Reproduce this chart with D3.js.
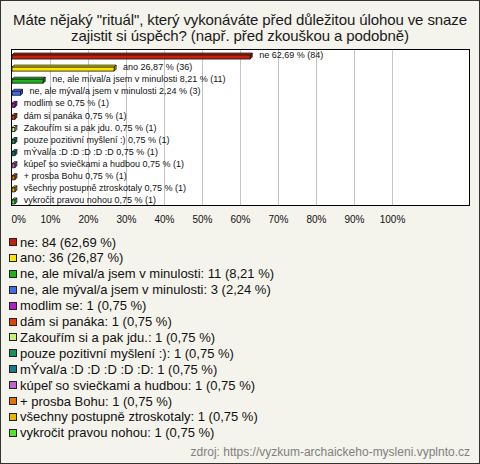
<!DOCTYPE html>
<html><head><meta charset="utf-8">
<script src="https://cdn.jsdelivr.net/npm/d3@7"></script>
<style>html,body{margin:0;padding:0;background:#f4f3ec;}svg{display:block;font-family:"Liberation Sans",Arial,sans-serif;}</style>
</head><body><svg id="c" width="480" height="464"></svg>
<script>
const titleLines = ["Máte nějaký \"rituál\", který vykonáváte před důležitou úlohou ve snaze", "zajistit si úspěch? (např. před zkouškou a podobně)"];
const categories = ["ne", "ano", "ne, ale míval/a jsem v minulosti", "ne, ale mýval/a jsem v minulosti", "modlim se", "dám si panáka", "Zakouřím si a pak jdu.", "pouze pozitivní myšlení :)", "mÝval/a :D :D :D :D :D", "kúpeľ so sviečkami a hudbou", "+ prosba Bohu", "všechny postupně ztroskotaly", "vykročit pravou nohou"];
const counts = [84, 36, 11, 3, 1, 1, 1, 1, 1, 1, 1, 1, 1];
const percents = [62.69, 26.87, 8.21, 2.24, 0.75, 0.75, 0.75, 0.75, 0.75, 0.75, 0.75, 0.75, 0.75];
const colors = ["#c4200e", "#ffe400", "#1fb21f", "#3e6ee8", "#b21fc4", "#e0420e", "#c8f27a", "#16925c", "#1b7a8c", "#c262cc", "#e2720e", "#e8b800", "#52e232"];
const tickValues = [0,10,20,30,40,50,60,70,80,90,100];
const source = "zdroj: https://vyzkum-archaickeho-mysleni.vyplnto.cz";

const fmt = v => v.toFixed(2).replace(".", ",");
const svg = d3.select("#c");
svg.append("rect").attr("x",0.5).attr("y",0.5).attr("width",479).attr("height",463).attr("fill","#f4f3ec").attr("stroke","#333");

const titleWidths = [454, 338];
svg.append("g").selectAll("text").data(titleLines).join("text")
  .attr("x",240).attr("y",(d,i)=>25+i*16).attr("text-anchor","middle")
  .attr("font-size","15px").attr("fill","#1a1a1a")
  .attr("textLength",(d,i)=>titleWidths[i]).attr("lengthAdjust","spacing").text(d=>d);

const x = d3.scaleLinear().domain([0,100]).range([12,392]);
const y = d3.scaleBand().domain(categories).range([49,206]).padding(0);
const plotL = 11, plotR = 470, plotT = 49, plotB = 206;

svg.append("rect").attr("x",plotL+0.5).attr("y",plotT+0.5).attr("width",plotR-plotL-1).attr("height",plotB-plotT-1)
  .attr("fill","#fff").attr("stroke","#000");

svg.append("g").selectAll("line").data(tickValues.filter(t=>t>0)).join("line")
  .attr("x1",d=>Math.round(x(d))+0.5).attr("x2",d=>Math.round(x(d))+0.5)
  .attr("y1",plotT+1).attr("y2",plotB-1).attr("stroke","#c4c4c4");

// axis labels
const axis = d3.axisBottom(x).tickValues(tickValues).tickFormat(d=>d+"%").tickSize(0).tickPadding(0);
const ag = svg.append("g").attr("transform",`translate(0,${plotB+10})`).call(axis);
ag.select(".domain").remove();
ag.selectAll("text").attr("font-size","10px").attr("font-family","Liberation Sans, Arial, sans-serif").attr("fill","#111").attr("dy","0.71em");
ag.selectAll(".tick").filter(d=>d===0).select("text").attr("text-anchor","start").attr("x",-1);

// 3D bars
const dpt = 2;
const bars = svg.append("g");
categories.forEach((c,i)=>{
  const cy = y(c) + y.bandwidth()/2;
  const x0 = x(0), x1 = x(percents[i]);
  const top = cy, bot = cy + 4;
  const col = d3.color(colors[i]);
  const g = bars.append("g").attr("stroke","#111").attr("stroke-width",0.8).attr("stroke-linejoin","round");
  g.append("path").attr("d",`M${x0},${top}L${x0+dpt},${top-dpt}L${x1+dpt},${top-dpt}L${x1},${top}Z`).attr("fill",col.brighter(0.4));
  g.append("path").attr("d",`M${x1},${top}L${x1+dpt},${top-dpt}L${x1+dpt},${bot-dpt}L${x1},${bot}Z`).attr("fill",col.darker(0.7));
  g.append("rect").attr("x",x0).attr("y",top).attr("width",x1-x0).attr("height",bot-top).attr("fill",col);
  bars.append("text").attr("x",x1+9).attr("y",cy).attr("dy","0.35em").attr("font-size","9px").attr("fill","#111")
    .text(`${c} ${fmt(percents[i])} % (${counts[i]})`);
});

// legend
const lg = svg.append("g");
categories.forEach((c,i)=>{
  const cy = 242 + i*15.9;
  lg.append("rect").attr("x",9.5).attr("y",Math.round(cy-4)+0.5).attr("width",7).attr("height",7).attr("fill",colors[i]).attr("stroke","#222");
  lg.append("text").attr("x",20).attr("y",cy).attr("dy","0.35em").attr("font-size","13px").attr("fill","#111")
    .text(`${c}: ${counts[i]} (${fmt(percents[i])} %)`);
});

svg.append("text").attr("x",470).attr("y",452).attr("dy","0.35em").attr("text-anchor","end").attr("font-size","12px").attr("fill","#808080").text(source);
</script></body></html>
